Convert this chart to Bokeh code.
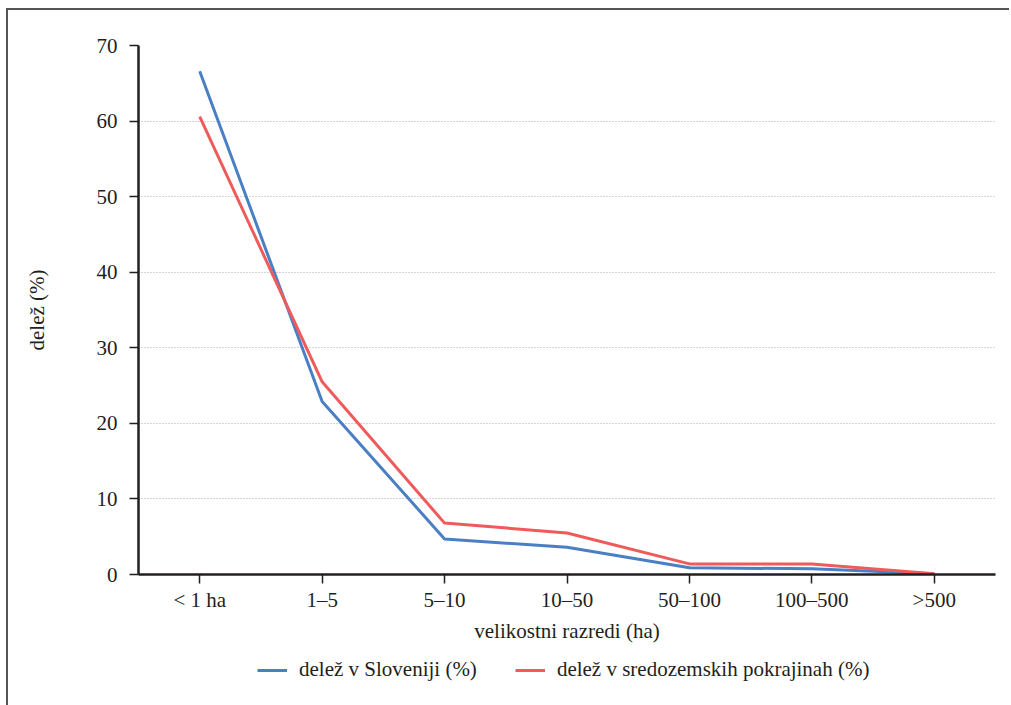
from bokeh.plotting import figure
from bokeh.models import FactorRange, Range1d, Legend, LegendItem
from bokeh.layouts import column
from bokeh.embed import file_html
from bokeh.resources import INLINE

razredi = ["< 1 ha", "1–5", "5–10", "10–50", "50–100", "100–500", ">500"]
slovenija = [66.6, 22.9, 4.7, 3.6, 0.9, 0.75, 0.1]
sredozemlje = [60.6, 25.5, 6.8, 5.5, 1.4, 1.4, 0.1]
y_ticks = [0, 10, 20, 30, 40, 50, 60, 70]
serije = ["delež v Sloveniji (%)", "delež v sredozemskih pokrajinah (%)"]
barve = ["#4a7fc4", "#ef5b5b"]

FONT = "Liberation Serif"
TXT = "#231f20"
FS = "21px"

xr = FactorRange(*razredi, range_padding=0)
p = figure(x_range=xr, y_range=Range1d(0, 70),
           frame_width=857, frame_height=529,
           min_border_left=130, min_border_top=35, min_border_right=14,
           min_border_bottom=76,
           output_backend="svg", toolbar_location=None)
p.outline_line_color = None

p.line(razredi, slovenija, line_color=barve[0], line_width=3)
p.line(razredi, sredozemlje, line_color=barve[1], line_width=3)

p.xgrid.grid_line_color = None
p.ygrid.grid_line_color = "#a8a8a8"
p.ygrid.grid_line_dash = "1 2"
p.ygrid.grid_line_width = 1
p.yaxis.ticker = y_ticks

for ax in (p.xaxis[0], p.yaxis[0]):
    ax.axis_line_color = TXT
    ax.axis_line_width = 2.5
    ax.major_tick_line_color = TXT
    ax.major_tick_line_width = 1.5
    ax.major_tick_in = 0
    ax.major_tick_out = 9
    ax.minor_tick_line_color = None
    ax.major_label_text_font = FONT
    ax.major_label_text_font_size = FS
    ax.major_label_text_color = TXT
    ax.axis_label_text_font = FONT
    ax.axis_label_text_font_size = FS
    ax.axis_label_text_color = TXT
    ax.axis_label_text_font_style = "normal"

p.yaxis.axis_label = "delež (%)"
p.yaxis.major_label_standoff = 12
p.yaxis.axis_label_standoff = 45
p.xaxis.axis_label = "velikostni razredi (ha)"
p.xaxis.major_label_standoff = 4
p.xaxis.axis_label_standoff = 4

# legend strip below the chart (same series, drawn outside its visible y-range)
p2 = figure(width=1001, height=55, x_range=xr, y_range=Range1d(1000, 1001),
            x_axis_type=None, y_axis_type=None, min_border=0,
            output_backend="svg", toolbar_location=None)
p2.outline_line_color = None
p2.xgrid.grid_line_color = None
p2.ygrid.grid_line_color = None
l1 = p2.line(razredi, slovenija, line_color=barve[0], line_width=3)
l2 = p2.line(razredi, sredozemlje, line_color=barve[1], line_width=3)

legend = Legend(items=[LegendItem(label=serije[0], renderers=[l1]),
                       LegendItem(label=serije[1], renderers=[l2])],
                orientation="horizontal", location=(119, 23),
                label_text_font=FONT, label_text_font_size=FS, label_text_color=TXT,
                glyph_width=30, label_standoff=12, spacing=38,
                border_line_color=None, background_fill_alpha=0,
                margin=0, padding=0)
p2.add_layout(legend, "center")

lay = column(p, p2, spacing=0)
lay.styles = {"border-top": "2px solid #555555", "border-left": "2px solid #555555",
              "margin-top": "8px", "margin-left": "6px"}

open("out.html", "w").write(file_html(lay, INLINE))
